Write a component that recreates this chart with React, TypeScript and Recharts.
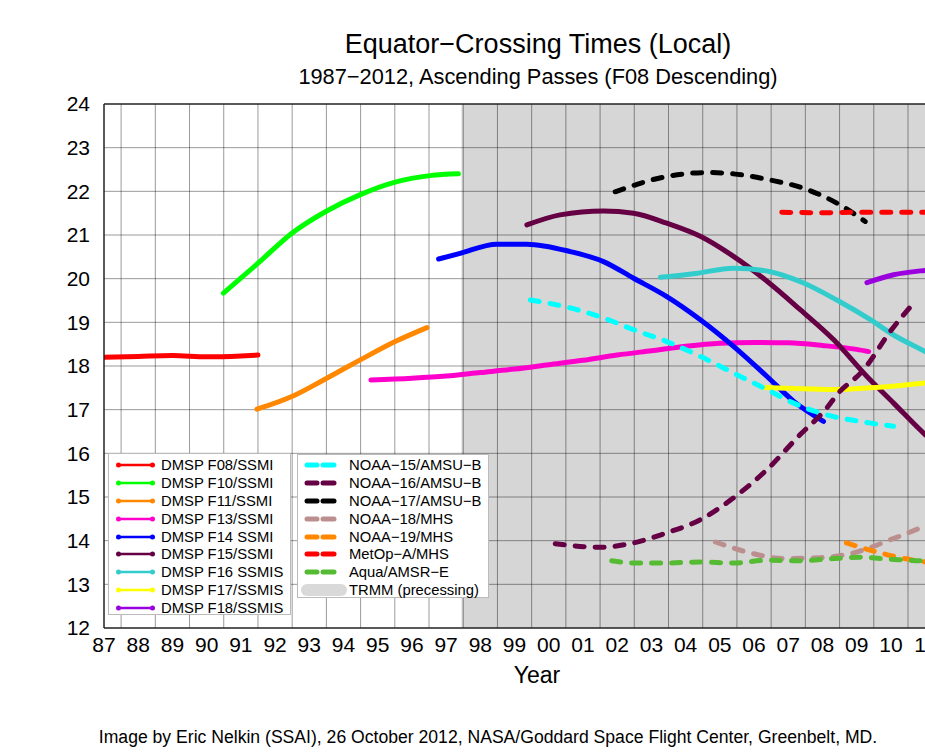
import { LineChart, Line, XAxis, YAxis, ReferenceArea, ReferenceLine } from "recharts";

type Pt = { x: number; y: number };
const pts = (a: number[][]): Pt[] => a.map(([x, y]) => ({ x, y }));

// x = two-digit year carried past 99 (100 = 2000), y = local hour
const dmspF08 = [[87, 18.2], [88, 18.22], [89, 18.24], [90, 18.21], [91, 18.23], [91.5, 18.25]];
const dmspF10 = [[90.49, 19.67], [91.51, 20.36], [92.51, 21.05], [93.51, 21.55], [94.51, 21.93], [95.51, 22.21], [96.53, 22.36], [97.36, 22.4]];
const dmspF11 = [[91.47, 17.01], [92.49, 17.3], [93.51, 17.72], [94.49, 18.14], [95.51, 18.56], [96.44, 18.88]];
const dmspF13 = [[94.8, 17.68], [96, 17.72], [97, 17.77], [98, 17.85], [99, 17.93], [100, 18.03], [101, 18.13], [102, 18.25], [103, 18.35], [104, 18.45], [105, 18.52], [106, 18.54], [107, 18.53], [108, 18.47], [109, 18.38], [109.35, 18.33]];
const dmspF14 = [[96.78, 20.45], [97.41, 20.58], [98.48, 20.79], [99.36, 20.79], [100.63, 20.62], [101.6, 20.39], [102.48, 20.01], [103.45, 19.59], [104.43, 19.06], [105.4, 18.45], [106.38, 17.76], [107.16, 17.19], [108.03, 16.73]];
const dmspF15 = [[99.36, 21.23], [100.33, 21.46], [101.6, 21.55], [102.48, 21.5], [103.45, 21.27], [104.43, 20.97], [105.4, 20.51], [106.38, 19.94], [107.35, 19.29], [108.33, 18.6], [109.3, 17.76], [110.08, 17.15], [111, 16.43], [112, 15.8]];
const dmspF16 = [[103.26, 20.03], [104.3, 20.12], [105.4, 20.24], [106.47, 20.16], [107.45, 19.9], [108.42, 19.51], [109.4, 19.06], [110.08, 18.71], [111, 18.33], [112, 17.9]];
const dmspF17 = [[106.28, 17.51], [107.4, 17.48], [108.42, 17.46], [109.4, 17.5], [110.2, 17.55], [111, 17.61], [112, 17.7]];
const dmspF18 = [[109.3, 19.91], [110.08, 20.09], [111, 20.19], [112, 20.25]];
const noaa15 = [[99.46, 19.51], [100.63, 19.33], [101.6, 19.1], [102.48, 18.83], [103.45, 18.56], [104.43, 18.22], [105.4, 17.84], [106.38, 17.46], [107.16, 17.15], [108.13, 16.88], [109.1, 16.73], [110.08, 16.62]];
const noaa16 = [[100.19, 13.93], [101.5, 13.85], [102.48, 13.95], [103.45, 14.18], [104.43, 14.48], [105.4, 14.98], [106.38, 15.63], [107.35, 16.43], [108.13, 17.04], [108.42, 17.34], [109.2, 17.91], [109.98, 18.79], [110.71, 19.48]];
const noaa17 = [[101.94, 21.99], [103.45, 22.34], [104.62, 22.43], [105.4, 22.4], [106.47, 22.26], [107.45, 22.07], [108.42, 21.73], [109.25, 21.31]];
const noaa18 = [[104.87, 13.97], [105.89, 13.72], [106.86, 13.59], [107.94, 13.61], [108.91, 13.72], [109.98, 14.02], [111, 14.34], [112, 14.7]];
const noaa19 = [[108.7, 13.95], [109.5, 13.76], [110.27, 13.61], [110.86, 13.53], [112, 13.45]];
const metopA = [[106.81, 21.52], [108, 21.51], [109, 21.52], [110, 21.52], [111, 21.52], [112, 21.52]];
const aquaAmsrE = [[101.84, 13.54], [102.48, 13.49], [103.45, 13.49], [104.43, 13.51], [105.4, 13.49], [106.38, 13.55], [107.35, 13.54], [108.33, 13.59], [109.1, 13.62], [110.08, 13.57], [111, 13.54], [112, 13.55]];

const yearTicks = [87, 88, 89, 90, 91, 92, 93, 94, 95, 96, 97, 98, 99, 100, 101, 102, 103, 104, 105, 106, 107, 108, 109, 110, 111, 112];
const yearGrid = [87.5, 88.5, 89.5, 90.5, 91.5, 92.5, 93.5, 94.5, 95.5, 96.5, 97.5, 98.5, 99.5, 100.5, 101.5, 102.5, 103.5, 104.5, 105.5, 106.5, 107.5, 108.5, 109.5, 110.5, 111.5];
const hourTicks = [12, 13, 14, 15, 16, 17, 18, 19, 20, 21, 22, 23, 24];
const trmmStart = 97.45;
const xMax = 112.4;

const dmsp = [
  { name: "DMSP F08/SSMI", data: dmspF08, color: "#ff0000" },
  { name: "DMSP F10/SSMI", data: dmspF10, color: "#00ff00" },
  { name: "DMSP F11/SSMI", data: dmspF11, color: "#ff8800" },
  { name: "DMSP F13/SSMI", data: dmspF13, color: "#ff00cc" },
  { name: "DMSP F14 SSMI", data: dmspF14, color: "#0000ff" },
  { name: "DMSP F15/SSMI", data: dmspF15, color: "#660044" },
  { name: "DMSP F16 SSMIS", data: dmspF16, color: "#33cccc" },
  { name: "DMSP F17/SSMIS", data: dmspF17, color: "#ffff00" },
  { name: "DMSP F18/SSMIS", data: dmspF18, color: "#9900dd" },
];
const sounders = [
  { name: "NOAA\u221215/AMSU\u2212B", data: noaa15, color: "#00ffff" },
  { name: "NOAA\u221216/AMSU\u2212B", data: noaa16, color: "#660044" },
  { name: "NOAA\u221217/AMSU\u2212B", data: noaa17, color: "#000000" },
  { name: "NOAA\u221218/MHS", data: noaa18, color: "#bc8f8f" },
  { name: "NOAA\u221219/MHS", data: noaa19, color: "#ff8800" },
  { name: "MetOp\u2212A/MHS", data: metopA, color: "#ff0000" },
  { name: "Aqua/AMSR\u2212E", data: aquaAmsrE, color: "#55bb33" },
];

const font = "'Liberation Sans', Arial, Helvetica, sans-serif";
const fmtYear = (v: number) => String(v % 100).padStart(2, "0");

function Legends() {
  const row = { height: 17.9, display: "flex", alignItems: "center", whiteSpace: "nowrap" as const };
  return (
    <>
      <div style={{ position: "absolute", left: 108, top: 453, width: 183, height: 162, background: "#fff", border: "1px solid #bbb", boxSizing: "border-box", padding: "2px 0 0 7px", fontSize: 14.8, fontFamily: font }}>
        {dmsp.map((s) => (
          <div key={s.name} style={row}>
            <svg width={45} height={10}>
              <line x1={2} y1={5} x2={37} y2={5} stroke={s.color} strokeWidth={2.5} />
              <circle cx={2.5} cy={5} r={2.5} fill={s.color} />
              <circle cx={36.5} cy={5} r={2.5} fill={s.color} />
            </svg>
            <span>{s.name}</span>
          </div>
        ))}
      </div>
      <div style={{ position: "absolute", left: 297, top: 454, width: 192, height: 144, background: "#fff", border: "1px solid #bbb", boxSizing: "border-box", padding: "1px 0 0 3px", fontSize: 14.8, fontFamily: font }}>
        {sounders.map((s) => (
          <div key={s.name} style={row}>
            <svg width={48} height={10}>
              <line x1={6} y1={5} x2={16} y2={5} stroke={s.color} strokeWidth={5} strokeLinecap="round" />
              <line x1={22} y1={5} x2={33} y2={5} stroke={s.color} strokeWidth={5} strokeLinecap="round" />
            </svg>
            <span>{s.name}</span>
          </div>
        ))}
        <div style={row}>
          <svg width={48} height={14}>
            <rect x={0} y={1} width={46} height={12} rx={6} fill="#d9d9d9" />
          </svg>
          <span>TRMM (precessing)</span>
        </div>
      </div>
    </>
  );
}

export default function App() {
  const center = (top: number, size: number, left: number, text: string) => (
    <div style={{ position: "absolute", left, top, transform: "translateX(-50%)", fontSize: size, fontFamily: font, whiteSpace: "nowrap", lineHeight: 1 }}>{text}</div>
  );
  return (
    <div style={{ position: "absolute", left: 0, top: 0, width: 925, height: 755, overflow: "hidden", background: "#fff" }}>
      {center(31, 27, 538, "Equator\u2212Crossing Times (Local)")}
      {center(66, 21.8, 538, "1987\u22122012, Ascending Passes (F08 Descending)")}
      <div style={{ position: "absolute", left: 0, top: 0 }}>
        <LineChart width={995} height={700} margin={{ top: 104, right: 22, left: 0, bottom: 32 }}>
          <XAxis
            type="number"
            dataKey="x"
            domain={[87, xMax]}
            ticks={yearTicks}
            tickFormatter={fmtYear}
            allowDataOverflow
            height={40}
            tickLine={false}
            tickSize={0}
            tickMargin={9}
            axisLine={{ stroke: "#222", strokeWidth: 1.5 }}
            tick={{ fill: "#000", fontSize: 21, fontFamily: font }}
            interval={0}
          />
          <YAxis
            type="number"
            dataKey="y"
            domain={[12, 24]}
            ticks={hourTicks}
            allowDataOverflow
            width={104}
            tickLine={false}
            tickSize={0}
            tickMargin={14}
            axisLine={{ stroke: "#222", strokeWidth: 1.5 }}
            tick={{ fill: "#000", fontSize: 21, fontFamily: font }}
            interval={0}
          />
          <ReferenceArea x1={trmmStart} x2={xMax} y1={12} y2={24} fill="#d6d6d6" fillOpacity={1} stroke="none" />
          {yearGrid.map((v) => (
            <ReferenceLine key={"gx" + v} x={v} stroke="#000" strokeOpacity={0.4} strokeWidth={1} />
          ))}
          {hourTicks.slice(1, -1).map((v) => (
            <ReferenceLine key={"gy" + v} y={v} stroke="#000" strokeOpacity={0.4} strokeWidth={1} />
          ))}
          <ReferenceLine y={24} stroke="#222" strokeWidth={1.5} />
          {dmsp.map((s) => (
            <Line key={s.name} data={pts(s.data)} dataKey="y" type="monotone" stroke={s.color} strokeWidth={5} strokeLinecap="round" dot={false} activeDot={false} isAnimationActive={false} />
          ))}
          {sounders.map((s) => (
            <Line key={s.name} data={pts(s.data)} dataKey="y" type="monotone" stroke={s.color} strokeWidth={5} strokeLinecap="round" strokeDasharray="9 11" dot={false} activeDot={false} isAnimationActive={false} />
          ))}
        </LineChart>
      </div>
      <Legends />
      {center(664, 23, 537, "Year")}
      {center(729, 17.6, 488, "Image by Eric Nelkin (SSAI), 26 October 2012, NASA/Goddard Space Flight Center, Greenbelt, MD.")}
    </div>
  );
}
